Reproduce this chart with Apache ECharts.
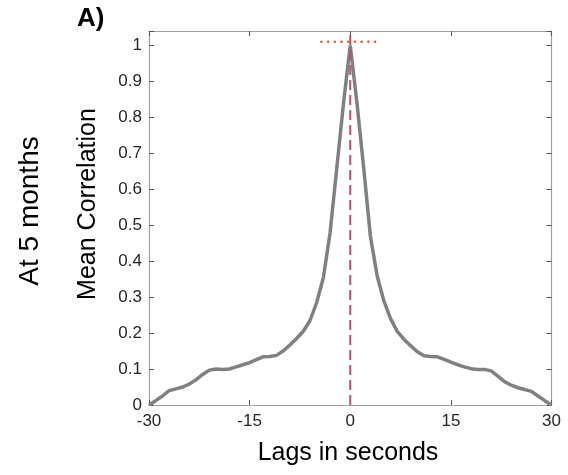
<!DOCTYPE html>
<html>
<head>
<meta charset="utf-8">
<script src="https://cdn.jsdelivr.net/npm/echarts@6/dist/echarts.min.js"></script>
<style>html,body{margin:0;padding:0;background:#fff}#c{width:568px;height:475px}</style>
</head>
<body>
<div id="c"></div>
<script>
// Lags in seconds (-30 .. 30)
var lags = [-30,-29,-28,-27,-26,-25,-24,-23,-22,-21,-20,-19,-18,-17,-16,-15,-14,-13,-12,-11,-10,-9,-8,-7,-6,-5,-4,-3,-2,-1,0,
  1,2,3,4,5,6,7,8,9,10,11,12,13,14,15,16,17,18,19,20,21,22,23,24,25,26,27,28,29,30];
// Mean correlation at each lag
var meanCorr = [0.000,0.012,0.025,0.040,0.045,0.050,0.058,0.070,0.085,0.097,0.100,0.099,0.100,0.106,0.112,0.118,0.126,0.134,0.135,0.138,0.150,0.167,0.185,0.205,0.235,0.285,0.355,0.480,0.660,0.840,1.000,
  0.840,0.660,0.470,0.360,0.290,0.240,0.205,0.183,0.165,0.148,0.137,0.135,0.134,0.127,0.119,0.112,0.106,0.101,0.099,0.099,0.095,0.080,0.065,0.055,0.048,0.043,0.038,0.025,0.012,0.000];
// Reference lines
var zeroLagLine = [[0, 0], [0, 1.04]];
var peakLevelLine = [[-4.3, 1.01], [4.3, 1.01]];
// Tick settings
var xTicks = { min: -30, max: 30, interval: 15 };
var yTicks = { min: 0, max: 1.04, interval: 0.1 };

var labels = {
  panel: 'A)',
  row: 'At 5 months',
  y: 'Mean Correlation',
  x: 'Lags in seconds'
};

var chart = echarts.init(document.getElementById('c'));
var FONT = '"Liberation Sans", Arial, Helvetica, sans-serif';
var frame = { show: true, onZero: false, lineStyle: { color: '#a0a0a0', width: 1.2 } };
var ticksIn = { show: true, inside: true, length: 5, lineStyle: { color: '#555', width: 1 } };

var data = lags.map(function (l, i) { return [l, meanCorr[i]]; });

chart.setOption({
  animation: false,
  backgroundColor: '#fff',
  grid: { left: 149, right: 16.5, top: 31, bottom: 70, containLabel: false },
  xAxis: [
    { type: 'value', position: 'bottom', min: xTicks.min, max: xTicks.max, interval: xTicks.interval,
      axisLine: frame, axisTick: ticksIn, splitLine: { show: false },
      axisLabel: { color: '#262626', fontSize: 17, fontFamily: FONT, margin: 8 } },
    { type: 'value', position: 'top', min: xTicks.min, max: xTicks.max, interval: xTicks.interval,
      axisLine: frame, axisTick: ticksIn, splitLine: { show: false }, axisLabel: { show: false } }
  ],
  yAxis: [
    { type: 'value', position: 'left', min: yTicks.min, max: yTicks.max, interval: yTicks.interval,
      axisLine: frame, axisTick: ticksIn, splitLine: { show: false },
      axisLabel: { color: '#262626', fontSize: 17, fontFamily: FONT, margin: 7,
        formatter: function (v) { return v > 1.005 ? '' : String(Math.round(v * 10) / 10); } } },
    { type: 'value', position: 'right', min: yTicks.min, max: yTicks.max, interval: yTicks.interval,
      axisLine: frame, axisTick: ticksIn, splitLine: { show: false }, axisLabel: { show: false } }
  ],
  series: [
    { type: 'line', data: data, showSymbol: false, symbol: 'none', smooth: false,
      lineStyle: { color: '#808080', width: 3.5 }, z: 2 },
    { type: 'line', data: zeroLagLine, showSymbol: false, symbol: 'none',
      lineStyle: { color: '#b5536c', width: 2, type: [10, 5] }, z: 3 },
    { type: 'line', data: peakLevelLine, showSymbol: false, symbol: 'none',
      lineStyle: { color: '#e2622a', width: 2.6, type: [0.1, 6.6], cap: 'round' }, z: 4 }
  ],
  graphic: [
    { type: 'text', x: 77, y: 19, style: { text: labels.panel, font: 'bold 26px ' + FONT, fill: '#000', align: 'left', verticalAlign: 'middle' } },
    { type: 'text', x: 30, y: 211, rotation: Math.PI / 2, style: { text: labels.row, font: '28px ' + FONT, fill: '#000', align: 'center', verticalAlign: 'middle' } },
    { type: 'text', x: 88, y: 204, rotation: Math.PI / 2, style: { text: labels.y, font: '25px ' + FONT, fill: '#000', align: 'center', verticalAlign: 'middle' } },
    { type: 'text', x: 348, y: 453, style: { text: labels.x, font: '25px ' + FONT, fill: '#000', align: 'center', verticalAlign: 'middle' } }
  ]
});
</script>
</body>
</html>
